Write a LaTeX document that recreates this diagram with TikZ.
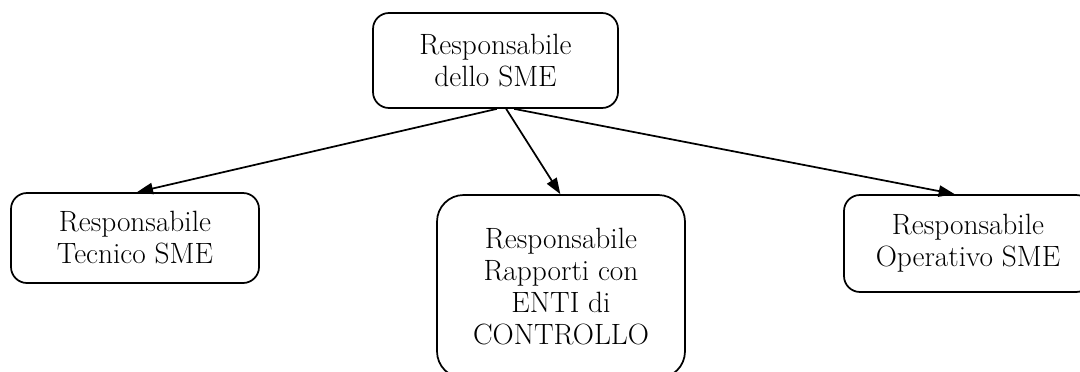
\documentclass[tikz,border=0pt]{standalone}
\usetikzlibrary{arrows.meta}
\begin{document}
\begin{tikzpicture}[x=0.75pt,y=-0.75pt,
  box/.style={draw,line width=1.3pt,align=center,inner sep=0pt,
    font=\fontsize{22}{24}\selectfont},
  conn/.style={line width=1.3pt,-{Triangle[length=12pt,width=8.5pt]}}]
\useasboundingbox (0,0) rectangle (1080,371);
\clip (0,0) rectangle (1080,371);
\node[box,rounded corners=12pt,minimum width=245*0.75pt,minimum height=95*0.75pt] (top) at (495.5,60.5) {Responsabile\\dello SME};
\node[box,rounded corners=12pt,minimum width=248*0.75pt,minimum height=90*0.75pt] (left) at (135,238) {Responsabile\\Tecnico SME};
\node[box,rounded corners=20pt,minimum width=248*0.75pt,minimum height=183*0.75pt] (mid) at (561,286.5) {Responsabile\\Rapporti con\\ENTI di\\CONTROLLO};
\node[box,rounded corners=12pt,minimum width=248*0.75pt,minimum height=97*0.75pt] (right) at (968,243.5) {Responsabile\\Operativo SME};
\draw[conn] ([xshift=1pt]top.south) -- ([xshift=1.5pt]left.north);
\draw[conn] ([xshift=8pt]top.south) -- ([xshift=-0.5pt]mid.north);
\draw[conn] ([xshift=14pt]top.south) -- ([xshift=-10pt]right.north);
\end{tikzpicture}
\end{document}
